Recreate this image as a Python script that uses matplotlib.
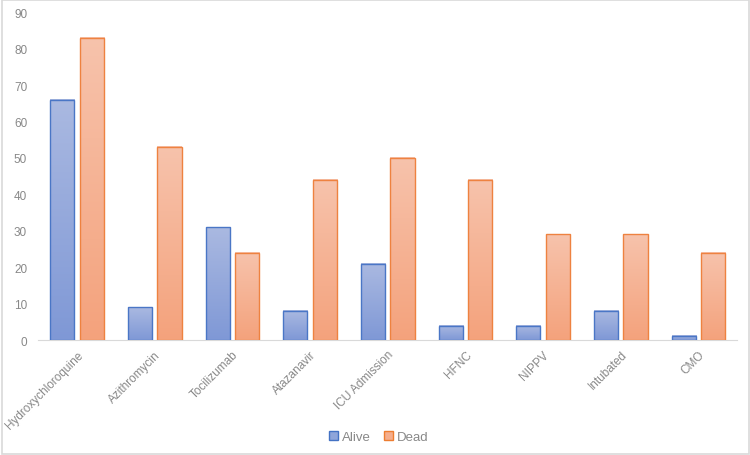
import numpy as np
import matplotlib.pyplot as plt
from matplotlib.patches import Patch, Rectangle
from matplotlib.colors import LinearSegmentedColormap

categories = ["Hydroxychloroquine", "Azithromycin", "Tocilizumab", "Atazanavir",
              "ICU Admission", "HFNC", "NIPPV", "Intubated", "CMO"]
alive = [66, 9, 31, 8, 21, 4, 4, 8, 1.2]
dead = [83, 53, 24, 44, 50, 44, 29, 29, 24]

plt.rcParams['font.family'] = ['Liberation Sans', 'DejaVu Sans']

fig = plt.figure(figsize=(7.5, 4.56), dpi=100)
ax = fig.add_axes([0.051, 0.252, 0.932, 0.719])

x = np.arange(len(categories))
w = 0.31
off = 0.19

blue_cmap = LinearSegmentedColormap.from_list("b", ["#7F98D6", "#AAB9E1"])
orange_cmap = LinearSegmentedColormap.from_list("o", ["#F4A27C", "#F7C3AC"])
grad = np.linspace(0, 1, 256).reshape(-1, 1)


def grad_bars(xs, vals, cmap, edge):
    bars = ax.bar(xs, vals, width=w, color="none", edgecolor=edge, linewidth=1.0, zorder=3)
    for b in bars:
        x0, y0 = b.get_x(), b.get_y()
        bw, bh = b.get_width(), b.get_height()
        # per-bar vertical gradient, light at top
        ax.imshow(grad, cmap=cmap, aspect="auto", origin="lower",
                  extent=[x0, x0 + bw, y0, y0 + bh], zorder=2)
    return bars


grad_bars(x - off, alive, blue_cmap, "#4A76C6")
grad_bars(x + off, dead, orange_cmap, "#EE8240")

ax.set_xlim(-0.5, len(categories) - 0.5)
ax.set_ylim(0, 90)
ax.set_yticks(range(0, 91, 10))
ax.set_xticks(x)
ax.set_xticklabels(categories, rotation=45, ha="right", rotation_mode="anchor")
ax.tick_params(axis="both", length=0, colors="#888888", labelsize=8.5)
ax.tick_params(axis="y", pad=8)
ax.tick_params(axis="x", pad=6)
for s in ["top", "right", "left"]:
    ax.spines[s].set_visible(False)
ax.spines["bottom"].set_color("#d9d9d9")

handles = [Patch(facecolor="#8FA5DA", edgecolor="#4472C4", label="Alive"),
           Patch(facecolor="#F5AE8D", edgecolor="#ED7D31", label="Dead")]
fig.legend(handles=handles, loc="center", bbox_to_anchor=(0.505, 0.04), ncol=2,
           frameon=False, fontsize=9.5, handlelength=0.7, handleheight=0.7,
           handletextpad=0.3, columnspacing=1.0, labelcolor="#888888")

fig.patches.append(Rectangle((0.002, 0.003), 0.996, 0.994, transform=fig.transFigure,
                             fill=False, edgecolor="#d9d9d9", linewidth=1.2))

fig.savefig("out.png", dpi=100)
